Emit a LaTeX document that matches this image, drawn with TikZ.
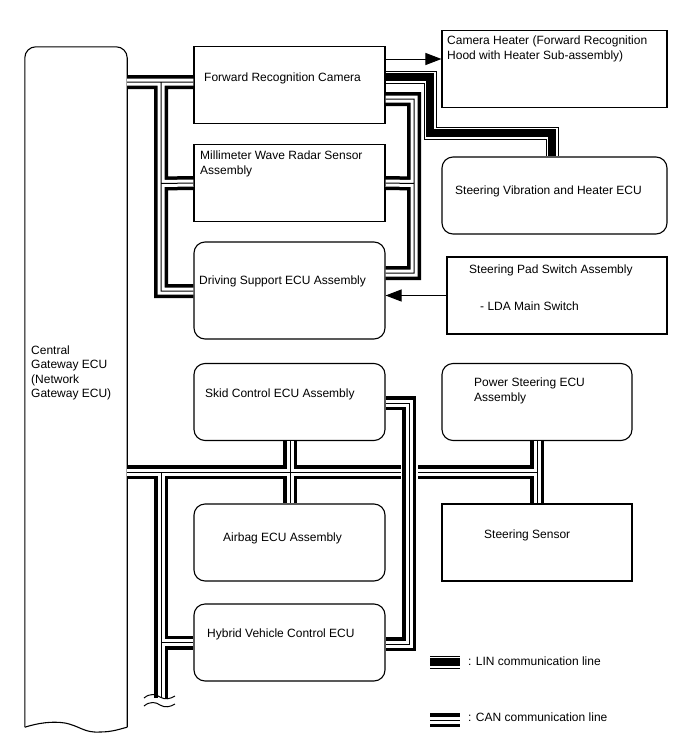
\documentclass[tikz,border=0pt]{standalone}
\usepackage{fontspec}
\setmainfont{Liberation Sans}
\usetikzlibrary{arrows.meta,calc}

\tikzset{
  plainbox/.style={draw,line width=1.1pt,minimum width=#1,minimum height=77pt,inner sep=0pt},
  plainbox/.default=191pt,
  roundbox/.style={plainbox=#1,rounded corners=11pt},
  roundbox/.default=191pt,
  lbl/.style={anchor=west,inner sep=0pt,align=left,font=\fontsize{12}{14.4}\selectfont},
  canline/.style={line width=14pt,line join=miter,
    postaction={draw,white,line width=7pt},
    postaction={draw,black,line width=1pt}},
  linline/.style={line width=13pt,line join=miter,
    postaction={draw,white,line width=11pt},
    postaction={draw,black,line width=8pt}},
  sigarrow/.style={line width=1pt,-{Triangle[length=16pt,width=12pt]}}
}

\begin{document}
\begin{tikzpicture}[x=1pt,y=-1pt]
\useasboundingbox (0,0) rectangle (688,755);

% 左侧网关
\node[minimum width=102pt,minimum height=680pt,inner sep=0pt] (gateway) at (76,387) {};
\draw[line width=1.1pt,rounded corners=11pt] (gateway.south west) -- (gateway.north west) -- (gateway.north east) -- (gateway.south east);
\draw[line width=1.1pt] (gateway.south west) .. controls (38,723) and (52,721) .. (65,723) .. controls (80,726) and (84,733) .. (100,732) .. controls (112,732) and (120,729) .. (gateway.south east);

% 上半部分的 ECU
\node[plainbox] (camera) at (289.5,85) {};
\node[plainbox] (radar) at (289.5,183) {};
\node[roundbox,minimum height=97pt] (support) at (289.5,290.5) {};
\node[plainbox=225pt] (heater) at (554.5,69) {};
\node[roundbox=225pt] (vibration) at (554.5,195.5) {};
\node[plainbox=220pt] (padswitch) at (557,295.5) {};

% 下半部分的 ECU
\node[roundbox] (skid) at (289.5,402) {};
\node[roundbox=190pt] (powersteer) at (537,402) {};
\node[roundbox] (airbag) at (289.5,542.5) {};
\node[plainbox=190pt] (sensor) at (537,542.5) {};
\node[roundbox] (hybrid) at (289.5,642.5) {};

% 文字
\node[lbl] (gatewaytxt) at (31,373) {Central\\Gateway ECU\\(Network\\Gateway ECU)};
\node[lbl] (cameratxt) at (204,78) {Forward Recognition Camera};
\node[lbl] (radartxt) at (200,164) {Millimeter Wave Radar Sensor\\Assembly};
\node[lbl] (supporttxt) at (199,281) {Driving Support ECU Assembly};
\node[lbl] (heatertxt) at (447,49) {Camera Heater (Forward Recognition\\Hood with Heater Sub-assembly)};
\node[lbl] (vibrationtxt) at (455,191) {Steering Vibration and Heater ECU};
\node[lbl] (padtxt) at (469,270) {Steering Pad Switch Assembly};
\node[lbl] (ldatxt) at (480,306) {- LDA Main Switch};
\node[lbl] (skidtxt) at (205,394) {Skid Control ECU Assembly};
\node[lbl] (powertxt) at (474,391) {Power Steering ECU\\Assembly};
\node[lbl] (airbagtxt) at (223,538) {Airbag ECU Assembly};
\node[lbl] (sensortxt) at (484,535) {Steering Sensor};
\node[lbl] (hybridtxt) at (207,634) {Hybrid Vehicle Control ECU};

% 单线箭头
\draw[sigarrow] ([yshift=26pt]camera.east) -- ([yshift=10pt]heater.west);
\draw[sigarrow] (padswitch.west) -- (padswitch.west -| support.east);

% LIN
\draw[linline] ([yshift=8pt]camera.east) -- (430,77) -- (430,133) -- (552,133) -- (552,0 |- vibration.north);

% CAN，上半部分
\draw[canline] ([yshift=3pt]gateway.east |- camera.east) -- ([yshift=3pt]camera.west)
  (161,82) -- (161,291) -- ([yshift=-0.5pt]support.west)
  (161,183.5) -- (radar.west);
\draw[canline] ([yshift=-14pt]camera.east) -- (414,99) -- (414,273) -- ([yshift=17.5pt]support.east)
  (414,183.5) -- (radar.east);

% CAN，下半部分
\draw[canline] (gateway.east |- 0,472) -- (401,472)
  (290,0 |- skid.south) -- (290,0 |- airbag.north)
  (161,472) -- (161,698)
  (161,642.5) -- (hybrid.west);
\draw[canline] (418,472) -- (537,472)
  (powersteer.south) -- (sensor.north);
\draw[canline] ([yshift=-1pt]skid.east) -- (409,403) -- (409,644) -- ([yshift=-1.5pt]hybrid.east);

% 断线符号
\draw[line width=1pt] (144,698) .. controls (150,693) and (156,694) .. (160,697) .. controls (165,700) and (170,699) .. (175,696);
\draw[line width=1pt] (144,706) .. controls (150,701) and (156,702) .. (160,705) .. controls (165,708) and (170,707) .. (175,704);

% 图例
\coordinate (linleft) at (430,662);
\coordinate (linright) at (460,662);
\coordinate (canleft) at (430,720);
\coordinate (canright) at (460,720);
\draw[linline] (linleft) -- (linright);
\draw[canline] (canleft) -- (canright);
\node[lbl] (lintxt) at (468,661) {: LIN communication line};
\node[lbl] (cantxt) at (468,717) {: CAN communication line};

\end{tikzpicture}
\end{document}
